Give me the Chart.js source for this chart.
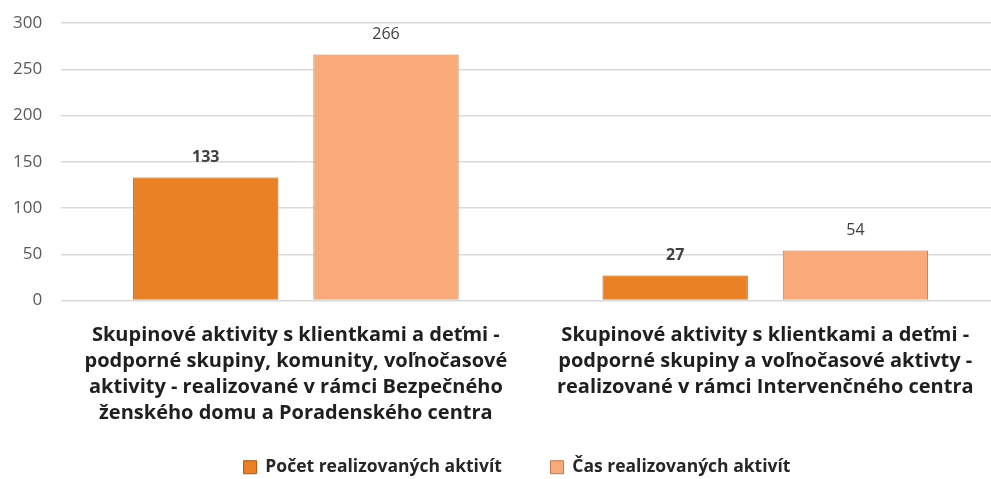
<!DOCTYPE html>
<html>
<head>
<meta charset="utf-8">
<script src="https://cdn.jsdelivr.net/npm/chart.js@4"></script>
<style>
  html, body { margin: 0; padding: 0; background: #fff; overflow: hidden; }
  #wrap { width: 1000px; height: 479px; }
</style>
</head>
<body>
<div id="wrap"><canvas id="myChart"></canvas></div>
<script>
const categories = [
  ['Skupinové aktivity s klientkami a deťmi -', 'podporné skupiny, komunity, voľnočasové', 'aktivity - realizované v rámci Bezpečného', 'ženského domu a Poradenského centra'],
  ['Skupinové aktivity s klientkami a deťmi -', 'podporné skupiny a voľnočasové aktivty -', 'realizované v rámci Intervenčného centra']
];
const pocet = [133, 27];
const cas = [266, 54];
const seriesNames = ['Počet realizovaných aktivít', 'Čas realizovaných aktivít'];
const yTicks = [0, 50, 100, 150, 200, 250, 300];

const font = "'Open Sans', 'Noto Sans', sans-serif";

// value labels above the bars
const valueLabels = {
  id: 'valueLabels',
  afterDatasetsDraw(chart) {
    const c = chart.ctx;
    c.save();
    c.textAlign = 'center';
    c.textBaseline = 'middle';
    c.fillStyle = '#404040';
    chart.data.datasets.forEach((ds, i) => {
      const meta = chart.getDatasetMeta(i);
      c.font = (i === 0 ? 'bold ' : '') + '16px ' + font;
      meta.data.forEach((bar, j) => {
        c.fillText(ds.data[j], bar.x, bar.y - 20);
      });
    });
    c.restore();
  }
};

// nudge the legend a bit to the right
const legendShift = {
  id: 'legendShift',
  afterLayout(chart) {
    chart.legend.left += 20;
    chart.legend.right += 20;
  }
};

const myChart = new Chart(document.getElementById('myChart'), {
  type: 'bar',
  data: {
    labels: categories,
    datasets: [
      {
        label: seriesNames[0],
        data: pocet,
        backgroundColor: '#EA8225',
        borderColor: '#A9581A',
        borderWidth: 1,
        categoryPercentage: 0.768,
        barPercentage: 0.806
      },
      {
        label: seriesNames[1],
        data: cas,
        backgroundColor: '#F8AA78',
        borderColor: '#B97A5A',
        borderWidth: 1,
        categoryPercentage: 0.768,
        barPercentage: 0.806
      }
    ]
  },
  options: {
    responsive: true,
    maintainAspectRatio: false,
    animation: false,
    layout: { padding: { top: 23, left: -6, right: 0, bottom: -7 } },
    plugins: {
      legend: {
        position: 'bottom',
        labels: {
          boxWidth: 13,
          boxHeight: 13,
          padding: 35,
          color: '#262626',
          font: { family: font, size: 17.5, weight: 'bold' },
          generateLabels: (chart) => {
            const items = Chart.defaults.plugins.legend.labels.generateLabels(chart);
            items[0].text += '   ';
            return items;
          }
        }
      },
      tooltip: { enabled: false }
    },
    scales: {
      x: {
        grid: { display: false },
        border: { display: false },
        afterFit: (axis) => { axis.paddingLeft = 0; axis.paddingRight = 0; axis.height = 123; },
        ticks: {
          color: '#1f1f1f',
          maxRotation: 0,
          autoSkip: false,
          padding: 14,
          font: { family: font, size: 20, weight: 'bold', lineHeight: 1.3 }
        }
      },
      y: {
        min: 0,
        max: 300,
        afterBuildTicks: (axis) => { axis.ticks = yTicks.map(v => ({ value: v })); },
        afterFit: (axis) => { axis.paddingTop = 0; },
        grid: { color: '#d9d9d9', lineWidth: 1.5, drawTicks: false },
        border: { display: false },
        ticks: {
          color: '#595959',
          padding: 19,
          font: { family: font, size: 17 }
        }
      }
    }
  },
  plugins: [valueLabels, legendShift]
});
</script>
</body>
</html>
